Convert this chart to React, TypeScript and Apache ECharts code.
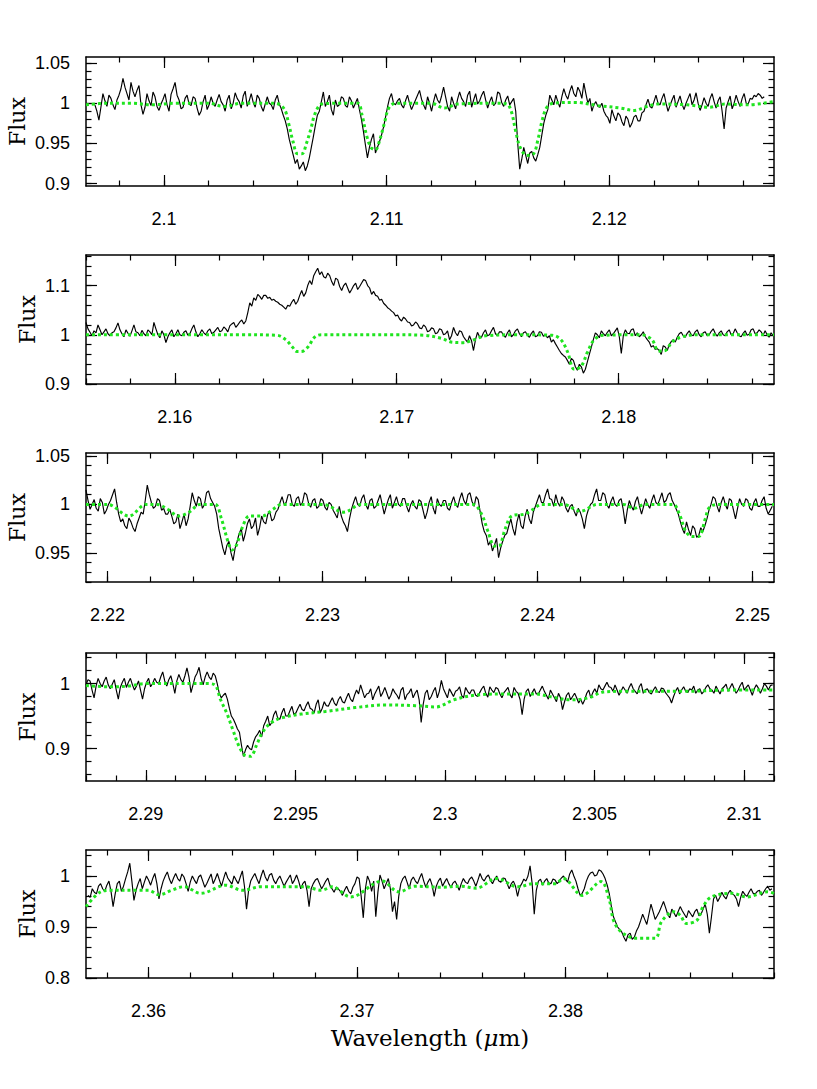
import React, { useEffect, useRef } from "react";
import * as echarts from "echarts";

// ---------- Panel 1 (2.0965 - 2.1274 um) ----------
const P1_X0 = 2.0969;
const P1_STEP = 0.00009;
const P1_FLUX = [
  0.998,0.990,0.979,0.995,1.012,1.003,0.996,1.010,1.006,0.998,0.992,1.004,1.010,1.018,1.031,1.020,1.012,1.004,1.026,1.015,
  1.008,1.016,1.022,0.998,0.986,0.995,1.012,1.003,0.997,1.014,1.008,0.996,0.991,0.999,1.005,1.012,0.998,0.990,1.011,1.018,
  1.026,1.010,1.004,0.993,0.995,1.006,1.010,0.999,0.997,1.008,1.006,0.994,0.985,0.990,1.002,1.010,0.992,0.998,1.008,1.000,
  0.996,1.004,1.011,1.002,0.998,0.990,1.004,1.010,0.993,1.000,1.013,1.006,1.002,0.994,1.009,1.015,0.996,1.003,1.012,1.001,
  0.995,1.010,1.006,0.996,0.990,0.999,1.008,1.000,0.998,0.992,1.004,1.010,0.999,0.993,
  0.985,0.978,0.968,0.955,0.945,0.935,0.925,0.930,0.918,0.922,0.927,0.916,0.922,0.932,0.945,0.958,0.972,0.985,0.990,1.002,
  1.014,0.996,1.002,1.010,0.992,0.985,1.004,0.996,0.998,1.008,1.006,0.997,0.995,1.008,1.003,0.994,1.000,1.006,0.992,0.980,
  0.965,0.948,0.932,0.945,0.955,0.962,0.938,0.945,0.952,0.960,0.970,0.982,0.995,1.006,1.012,1.000,0.998,1.003,
  1.006,0.998,0.994,1.003,1.010,1.000,0.992,0.998,1.004,1.010,1.016,1.005,0.998,0.992,1.008,1.000,0.990,1.002,
  1.012,1.004,1.000,1.009,1.020,1.008,0.996,0.990,1.008,1.000,0.993,1.005,1.014,1.006,1.002,0.996,1.010,1.015,0.995,1.004,
  1.012,0.999,1.003,1.010,1.015,1.004,0.994,1.002,1.008,0.997,1.000,1.014,1.012,1.001,0.996,1.004,1.009,0.998,1.002,1.006,
  0.990,0.950,0.918,0.930,0.945,0.935,0.925,0.938,0.940,0.932,0.928,0.936,0.945,0.960,0.975,0.985,0.992,1.010,1.004,0.998,
  1.010,1.002,0.995,1.008,1.018,1.010,1.005,1.015,1.022,1.012,1.008,1.020,1.015,1.006,1.025,1.012,1.000,1.006,0.990,0.998,1.002,0.996,
  0.995,1.000,0.990,0.985,0.982,0.975,0.992,0.984,0.978,0.988,0.985,0.977,0.972,0.984,0.980,0.970,0.975,0.983,0.985,0.978,0.978,0.988,0.990,0.998,
  1.005,0.996,0.994,1.002,1.010,1.000,0.998,1.006,1.012,1.000,0.990,0.997,1.004,1.010,0.995,1.002,1.009,0.999,0.992,1.000,
  1.006,1.012,0.998,1.004,1.013,1.000,0.991,0.998,1.007,1.000,0.996,1.006,1.012,1.002,0.994,1.003,1.008,0.990,0.968,0.994,
  1.002,1.009,0.993,1.000,1.010,1.002,0.996,1.006,1.012,1.000,0.999,1.006,1.005,1.010,1.008,1.012,1.010,1.006,1.008,
];
const P1_MODEL = [
  [2.0965,0.998],[2.0975,1.0],[2.0985,1.0],[2.0995,0.998],[2.1005,1.0],[2.1020,1.0],[2.1027,0.996],
  [2.1035,1.0],[2.1050,1.0],[2.1054,0.993],[2.1056,0.975],[2.1058,0.952],[2.1060,0.937],[2.1062,0.937],
  [2.1064,0.95],[2.1066,0.968],[2.1068,0.988],[2.1071,0.999],[2.1080,1.0],[2.1087,1.0],[2.1089,0.985],
  [2.1091,0.96],[2.1093,0.945],[2.1095,0.942],[2.1097,0.955],[2.1099,0.975],[2.1101,0.994],[2.1104,1.0],
  [2.1120,1.0],[2.1126,0.994],[2.1132,0.999],[2.1150,1.0],[2.1154,0.999],[2.1156,0.99],[2.1158,0.965],
  [2.1160,0.945],[2.1163,0.935],[2.1166,0.937],[2.1168,0.955],[2.1170,0.98],[2.1172,0.995],[2.1175,1.0],
  [2.1185,1.001],[2.1195,0.997],[2.1205,0.994],[2.1211,0.991],[2.1217,0.996],[2.1222,0.999],[2.1235,0.998],
  [2.1245,0.995],[2.1252,0.999],[2.1262,0.998],[2.1274,1.002],
];
const P1_XTICKS = [2.1, 2.11, 2.12];
const P1_YTICKS = [0.9, 0.95, 1, 1.05];

// ---------- Panel 2 (2.156 - 2.187 um) ----------
const P2_X0 = 2.156;
const P2_STEP = 0.00009;
const P2_FLUX = [
  1.025,1.012,1.005,0.998,1.008,1.004,1.020,1.010,1.000,1.006,1.012,1.002,0.998,1.004,1.006,1.014,1.024,1.010,1.002,0.996,
  1.010,1.003,0.997,1.008,1.020,1.006,1.004,0.998,1.009,1.002,0.998,1.010,1.006,1.000,1.025,1.012,1.000,0.994,1.008,1.000,
  0.984,0.996,1.004,1.010,0.996,1.002,1.010,1.000,0.998,1.005,1.008,0.999,1.002,1.012,1.020,1.006,0.996,1.002,1.010,1.004,
  1.000,1.008,1.012,1.002,1.005,1.010,1.015,1.006,1.008,1.016,1.012,1.006,1.018,1.022,
  1.025,1.015,1.020,1.026,1.030,1.022,1.028,1.045,
  1.065,1.058,1.075,1.070,1.082,1.078,1.072,1.080,1.080,1.074,1.076,1.070,1.072,1.068,1.066,1.062,1.060,1.056,1.052,1.060,
  1.058,1.066,1.072,1.062,1.068,1.080,1.090,1.078,1.085,1.100,1.110,1.102,1.120,1.128,1.135,1.122,1.128,1.118,1.115,1.125,
  1.120,1.108,1.100,1.115,1.112,1.098,1.090,1.100,1.105,1.095,1.085,1.092,1.100,1.105,1.092,1.098,1.105,1.112,1.110,1.100,
  1.095,1.082,1.088,1.080,1.078,1.070,1.072,1.064,1.060,1.055,1.052,1.048,1.045,1.038,1.040,1.032,1.028,1.036,1.032,1.026,
  1.025,1.018,1.020,1.026,1.022,1.014,1.012,1.020,1.016,1.006,1.008,1.014,1.012,1.002,1.004,1.012,1.010,1.000,
  1.002,1.008,0.990,0.998,1.015,1.004,0.998,1.008,1.006,0.996,0.990,0.985,0.998,0.988,0.968,0.990,1.005,0.996,0.995,1.004,
  1.010,0.998,1.000,1.008,1.015,1.002,0.998,1.006,1.006,0.999,0.995,1.004,1.010,0.996,1.000,1.008,1.012,1.002,0.996,1.004,
  1.006,0.999,0.995,1.003,1.008,0.996,0.998,1.006,1.005,0.997,1.000,0.994,0.998,0.985,0.990,0.982,
  0.975,0.968,0.962,0.958,0.955,0.948,0.940,0.952,0.948,0.935,0.928,0.940,0.935,0.922,0.930,0.945,0.960,0.975,0.990,1.004,1.000,0.994,
  1.008,1.002,0.998,1.005,1.010,0.998,1.002,1.008,1.014,0.996,0.962,0.998,1.010,1.003,1.002,1.010,1.012,0.998,1.004,0.996,1.000,1.006,0.996,0.990,
  0.985,0.975,0.978,0.970,0.972,0.968,0.960,0.978,0.975,0.968,0.980,0.986,0.990,0.985,0.995,1.002,
  1.005,0.998,0.995,1.003,1.008,1.000,0.998,1.006,1.010,1.000,0.996,1.004,1.006,0.998,1.000,1.007,1.012,1.003,0.997,1.004,
  1.008,1.000,0.998,1.006,1.010,1.000,1.002,1.012,1.004,0.998,0.996,1.003,1.008,0.999,1.001,1.010,1.012,1.002,1.004,1.010,
  1.006,0.999,1.008,1.000,0.995,1.004,0.998,
];
const P2_MODEL = [
  [2.156,1.0],[2.16,1.0],[2.163,1.0],[2.1646,0.999],[2.165,0.99],[2.1653,0.975],[2.1655,0.966],
  [2.1657,0.966],[2.166,0.975],[2.1663,0.995],[2.1666,1.0],[2.17,1.0],[2.1712,0.999],[2.172,0.993],
  [2.1725,0.985],[2.173,0.984],[2.1735,0.99],[2.174,0.998],[2.1755,1.0],[2.177,0.999],[2.1774,0.99],
  [2.1777,0.965],[2.178,0.93],[2.1783,0.935],[2.1786,0.965],[2.1789,0.99],[2.1793,0.999],[2.181,1.0],
  [2.1815,0.99],[2.1818,0.967],[2.1821,0.968],[2.1824,0.985],[2.1828,0.995],[2.1835,1.0],[2.187,1.0],
];
const P2_XTICKS = [2.16, 2.17, 2.18];
const P2_YTICKS = [0.9, 1, 1.1];

// ---------- Panel 3 (2.219 - 2.251 um) ----------
const P3_X0 = 2.219;
const P3_STEP = 0.000095;
const P3_FLUX = [
  1.015,1.004,0.995,1.000,1.005,0.996,0.993,1.006,1.002,0.990,0.994,1.000,1.004,1.010,1.016,1.002,0.990,0.982,0.985,0.978,
  0.975,0.986,0.982,0.976,0.972,0.980,0.986,0.992,0.990,1.004,1.020,1.010,1.002,0.996,0.998,1.006,1.004,0.994,0.996,0.990,
  0.990,0.995,0.988,0.980,0.982,0.990,0.975,0.982,0.990,0.978,0.985,0.998,1.012,1.004,0.998,1.008,1.006,0.996,1.000,1.012,
  1.014,1.006,1.002,0.998,0.990,0.975,0.965,0.955,0.948,0.958,0.962,0.950,0.942,0.955,0.962,0.970,0.975,0.962,0.970,0.980,
  0.985,0.975,0.978,0.986,0.968,0.976,0.988,0.982,0.980,0.990,0.992,0.983,0.985,0.992,0.995,1.002,1.008,1.000,1.002,1.010,
  1.010,1.000,0.998,1.006,1.008,0.999,1.002,1.012,1.010,1.001,0.997,1.004,1.006,0.996,0.998,1.006,1.004,0.997,0.994,1.002,
  1.000,0.994,0.990,0.986,0.998,0.988,0.982,0.978,0.972,0.985,0.995,1.002,1.008,1.000,0.998,1.006,1.010,1.000,0.995,1.004,
  1.006,0.996,0.998,1.004,1.010,1.000,0.990,0.998,1.005,1.010,0.996,1.002,1.008,1.000,0.998,1.006,1.006,0.998,0.992,1.000,
  1.004,0.998,0.995,1.005,1.003,0.994,0.985,0.992,1.002,1.008,0.996,0.990,1.006,1.000,0.998,1.004,1.004,0.996,0.994,1.002,
  1.008,1.000,0.997,1.006,1.012,1.004,1.000,1.010,1.012,1.003,0.998,1.008,1.005,0.992,0.980,0.972,0.968,0.958,0.962,0.952,
  0.958,0.965,0.945,0.955,0.962,0.968,0.970,0.978,0.985,0.975,0.968,0.982,0.990,0.978,0.975,0.988,0.995,0.985,0.980,0.992,
  0.998,1.004,1.010,1.002,1.002,1.010,1.016,1.006,1.005,0.998,1.010,1.002,0.998,1.008,1.004,0.996,0.992,0.998,1.000,0.993,
  0.988,0.996,0.992,0.985,0.975,0.988,0.995,1.000,1.002,1.010,1.016,1.004,1.004,1.012,1.010,1.000,0.996,1.003,1.008,1.000,
  0.998,1.004,1.006,0.995,0.980,0.994,1.004,0.998,0.994,1.003,1.008,0.998,0.990,0.998,1.006,1.000,0.996,1.004,1.010,1.002,
  1.000,1.006,1.012,1.002,1.004,1.010,1.012,1.004,1.000,0.995,0.990,0.982,0.975,0.970,0.982,0.974,0.968,0.978,0.975,0.966,
  0.968,0.976,0.972,0.978,0.985,0.994,1.000,1.008,1.006,0.998,0.992,1.002,1.008,1.000,0.995,1.006,1.004,0.994,0.985,0.996,
  1.006,1.000,0.998,1.006,1.004,0.996,0.994,1.002,1.006,0.998,0.998,1.004,1.008,0.996,0.990,0.994,0.998,
];
const P3_MODEL = [
  [2.219,1.0],[2.22,1.0],[2.221,0.988],[2.2218,1.0],[2.2223,1.0],[2.2228,0.995],[2.2233,0.988],
  [2.2238,0.992],[2.2243,1.0],[2.225,1.0],[2.2253,0.985],[2.2256,0.962],[2.2258,0.953],[2.226,0.958],
  [2.2263,0.978],[2.2266,0.988],[2.2272,0.988],[2.2277,0.995],[2.2281,1.0],[2.23,1.0],[2.231,0.992],
  [2.2318,1.0],[2.236,1.0],[2.237,1.0],[2.2374,0.99],[2.2377,0.972],[2.238,0.957],[2.2382,0.957],
  [2.2385,0.975],[2.2388,0.988],[2.2394,0.99],[2.2398,0.995],[2.2402,1.0],[2.2412,1.0],[2.242,0.993],
  [2.2428,1.0],[2.244,1.0],[2.2445,0.996],[2.245,1.0],[2.2463,1.0],[2.2466,0.99],[2.2469,0.972],
  [2.2472,0.967],[2.2475,0.967],[2.2478,0.985],[2.248,0.997],[2.2484,1.0],[2.251,1.0],
];
const P3_XTICKS = [2.22, 2.23, 2.24, 2.25];
const P3_YTICKS = [0.95, 1, 1.05];

// ---------- Panel 4 (2.288 - 2.311 um) ----------
const P4_X0 = 2.288;
const P4_STEP = 0.0000675;
const P4_FLUX = [
  0.998,1.006,1.004,0.990,0.978,0.996,1.008,1.000,0.995,1.004,1.010,0.998,0.992,0.999,1.006,0.990,0.976,0.994,1.002,1.008,
  0.994,1.002,1.008,0.998,0.990,0.996,1.004,0.990,0.976,0.992,1.002,1.008,0.995,1.000,1.008,1.002,1.000,1.010,1.018,1.004,
  0.996,1.006,1.012,1.000,0.985,1.004,1.014,1.006,1.002,1.012,1.024,1.010,0.986,0.998,1.010,1.016,1.025,1.008,0.998,1.010,
  1.018,1.010,1.006,1.016,1.012,1.000,0.985,0.978,0.982,0.985,0.976,0.962,0.950,0.945,0.938,0.930,0.925,0.905,0.888,0.898,
  0.905,0.900,0.898,0.910,0.918,0.922,0.928,0.918,0.935,0.942,0.950,0.935,0.940,0.952,0.958,0.946,0.945,0.955,0.962,0.950,
  0.950,0.958,0.965,0.952,0.955,0.962,0.968,0.960,0.958,0.966,0.972,0.962,0.960,0.955,0.968,0.975,0.955,0.962,0.972,0.966,
  0.965,0.972,0.978,0.970,0.966,0.975,0.980,0.972,0.970,0.978,0.985,0.976,0.972,0.982,0.990,0.984,0.998,0.988,0.978,0.984,
  0.985,0.992,0.975,0.984,0.990,0.996,0.980,0.986,0.994,0.985,0.976,0.982,0.992,0.986,0.982,0.976,0.990,0.994,0.975,0.983,
  0.986,0.992,0.978,0.985,0.990,0.975,0.940,0.968,0.985,0.990,0.975,0.980,0.988,0.994,0.978,0.988,1.005,0.992,0.985,0.978,
  0.992,0.986,0.980,0.988,0.990,0.995,0.982,0.978,0.994,0.988,0.984,0.990,0.990,0.982,0.980,0.986,0.992,0.996,0.985,0.979,
  0.995,0.990,0.986,0.994,0.992,0.984,0.978,0.986,0.990,0.994,0.983,0.978,0.994,0.988,0.985,0.975,0.952,0.976,0.988,0.992,
  0.980,0.986,0.992,0.984,0.984,0.990,0.996,0.988,0.982,0.976,0.990,0.984,0.978,0.972,0.985,0.978,0.960,0.972,0.982,0.986,
  0.975,0.980,0.985,0.978,0.970,0.976,0.968,0.975,0.985,0.990,0.978,0.986,0.992,0.985,0.998,0.992,0.990,0.996,1.002,0.995,
  0.994,0.988,0.998,0.990,0.982,0.988,0.995,0.990,0.985,0.994,1.000,0.992,0.988,0.984,0.995,1.000,0.985,0.990,0.992,0.986,
  0.984,0.990,0.995,0.988,0.986,0.993,0.992,0.986,0.982,0.978,0.970,0.980,0.988,0.994,0.984,0.990,0.995,0.988,0.986,0.992,
  0.990,0.996,0.985,0.990,0.992,0.984,0.988,0.994,0.998,0.992,0.990,0.985,0.996,0.990,0.984,0.992,0.995,0.999,0.988,0.994,
  1.000,0.992,0.985,0.990,0.997,1.002,0.990,0.994,0.998,0.990,0.982,0.992,0.998,0.993,0.985,0.992,1.000,0.996,0.990,0.997,0.998,
];
const P4_MODEL = [
  [2.288,0.997],[2.2888,0.995],[2.2894,0.996],[2.29,1.0],[2.292,1.0],[2.2923,0.998],[2.2925,0.975],
  [2.2927,0.955],[2.2929,0.93],[2.2931,0.905],[2.2933,0.89],[2.2935,0.888],[2.2937,0.905],[2.2939,0.925],
  [2.2942,0.94],[2.2946,0.948],[2.2952,0.953],[2.296,0.957],[2.297,0.963],[2.298,0.967],[2.299,0.966],
  [2.2997,0.964],[2.3003,0.975],[2.301,0.982],[2.302,0.984],[2.303,0.984],[2.3036,0.979],[2.3042,0.975],
  [2.3048,0.978],[2.3053,0.987],[2.306,0.988],[2.308,0.988],[2.3095,0.99],[2.311,0.99],
];
const P4_XTICKS = [2.29, 2.295, 2.3, 2.305, 2.31];
const P4_YTICKS = [0.9, 1];

// ---------- Panel 5 (2.357 - 2.39 um) ----------
const P5_X0 = 2.3571;
const P5_STEP = 0.0001;
const P5_FLUX = [
  0.962,0.958,0.975,0.968,0.965,0.980,0.985,0.975,0.970,0.982,0.990,0.970,0.940,0.965,0.985,0.990,0.970,0.980,0.995,1.008,
  1.025,0.990,0.952,0.972,0.985,0.995,0.975,0.988,1.000,0.992,0.982,0.995,1.005,0.985,0.955,0.975,0.990,1.000,1.008,0.994,
  0.985,0.996,1.005,0.995,0.990,1.004,0.998,0.985,0.970,0.988,1.000,0.992,0.985,0.998,1.002,0.990,0.978,0.986,0.995,1.004,
  0.985,0.994,1.005,0.992,0.980,0.995,1.008,0.996,0.990,0.984,1.000,0.992,0.985,0.998,1.010,0.980,0.935,0.972,0.990,0.998,
  1.005,0.994,0.985,1.000,1.012,0.998,0.990,1.002,1.005,0.992,0.985,0.994,1.000,0.990,0.980,0.988,0.995,1.002,0.985,0.992,
  1.002,0.990,0.975,0.985,0.990,0.972,0.940,0.975,0.985,0.992,0.995,0.985,0.975,0.982,0.990,0.996,0.982,0.975,0.968,0.978,
  0.975,0.970,0.962,0.972,0.980,0.970,0.965,0.978,0.985,0.998,0.995,0.960,0.918,0.975,1.000,0.990,0.970,0.990,0.920,0.968,
  1.002,0.990,0.975,0.985,0.995,0.975,0.930,0.950,0.915,0.960,0.985,0.995,1.000,0.988,0.975,0.992,0.998,0.990,0.985,0.996,
  1.005,0.990,0.978,0.988,0.995,0.982,0.960,0.980,0.990,0.996,0.980,0.988,0.995,0.985,0.978,0.986,0.990,0.982,0.972,0.985,
  0.995,0.988,0.985,0.994,0.998,0.990,0.980,0.992,1.005,0.995,0.990,0.998,1.002,0.992,0.985,0.994,1.000,0.990,0.988,0.996,
  0.995,0.985,0.975,0.985,0.990,0.980,0.960,0.978,0.985,0.994,0.990,1.000,1.020,0.985,0.925,0.972,0.990,0.994,0.982,0.990,
  0.995,0.986,0.985,0.994,0.992,0.985,0.990,0.996,1.000,0.994,0.988,1.004,1.012,1.000,0.990,0.975,0.962,0.966,0.975,0.990,
  1.000,1.006,1.008,1.000,1.002,1.012,1.010,1.004,0.995,0.982,0.965,0.940,0.920,0.910,0.900,0.895,0.890,0.880,0.872,0.885,
  0.888,0.876,0.880,0.892,0.900,0.912,0.925,0.915,0.905,0.925,0.945,0.930,0.915,0.922,0.930,0.940,0.950,0.938,0.925,0.918,
  0.935,0.928,0.920,0.930,0.940,0.932,0.925,0.918,0.932,0.926,0.920,0.930,0.935,0.922,0.925,0.935,0.945,0.925,0.888,0.920,
  0.955,0.962,0.950,0.958,0.968,0.960,0.955,0.966,0.972,0.965,0.962,0.955,0.940,0.958,0.970,0.964,0.960,0.968,0.975,0.966,
  0.965,0.970,0.972,0.962,0.968,0.975,0.980,0.972,0.975,
];
const P5_MODEL = [
  [2.357,0.94],[2.3577,0.969],[2.3582,0.972],[2.3595,0.972],[2.36,0.972],[2.3605,0.963],[2.3611,0.972],
  [2.3617,0.979],[2.3625,0.966],[2.3637,0.982],[2.3645,0.972],[2.3654,0.979],[2.3675,0.979],[2.3683,0.972],
  [2.3688,0.979],[2.3697,0.959],[2.3712,0.99],[2.372,0.969],[2.3728,0.98],[2.374,0.978],[2.375,0.98],
  [2.3757,0.976],[2.3767,0.995],[2.3777,0.979],[2.3785,0.985],[2.3795,0.985],[2.3799,0.995],[2.3808,0.962],
  [2.3817,0.989],[2.3821,0.953],[2.3823,0.913],[2.3826,0.893],[2.383,0.882],[2.3833,0.878],[2.3843,0.878],
  [2.3846,0.91],[2.3852,0.93],[2.3855,0.923],[2.3858,0.907],[2.3863,0.913],[2.3866,0.94],[2.387,0.959],
  [2.388,0.966],[2.3887,0.959],[2.3897,0.969],[2.39,0.966],
];
const P5_XTICKS = [2.36, 2.37, 2.38];
const P5_YTICKS = [0.8, 0.9, 1];

const PANELS = [
  { top: 57, height: 129, xMin: 2.0965, xMax: 2.1274, yMin: 0.897, yMax: 1.0575, xMinor: 0.002, yMinor: 0.01, x0: P1_X0, step: P1_STEP, flux: P1_FLUX, model: P1_MODEL, xTicks: P1_XTICKS, yTicks: P1_YTICKS, labelX: 17 },
  { top: 255, height: 129, xMin: 2.156, xMax: 2.187, yMin: 0.9, yMax: 1.162, xMinor: 0.002, yMinor: 0.02, x0: P2_X0, step: P2_STEP, flux: P2_FLUX, model: P2_MODEL, xTicks: P2_XTICKS, yTicks: P2_YTICKS, labelX: 27 },
  { top: 453, height: 129, xMin: 2.219, xMax: 2.251, yMin: 0.92, yMax: 1.053, xMinor: 0.002, yMinor: 0.01, x0: P3_X0, step: P3_STEP, flux: P3_FLUX, model: P3_MODEL, xTicks: P3_XTICKS, yTicks: P3_YTICKS, labelX: 17 },
  { top: 653, height: 128, xMin: 2.288, xMax: 2.311, yMin: 0.85, yMax: 1.047, xMinor: 0.001, yMinor: 0.02, x0: P4_X0, step: P4_STEP, flux: P4_FLUX, model: P4_MODEL, xTicks: P4_XTICKS, yTicks: P4_YTICKS, labelX: 27 },
  { top: 850, height: 128, xMin: 2.357, xMax: 2.39, yMin: 0.8, yMax: 1.051, xMinor: 0.002, yMinor: 0.02, x0: P5_X0, step: P5_STEP, flux: P5_FLUX, model: P5_MODEL, xTicks: P5_XTICKS, yTicks: P5_YTICKS, labelX: 27 },
];

function minorTicks(min: number, max: number, step: number): number[] {
  const out: number[] = [];
  for (let k = Math.ceil(min / step - 1e-6); k * step <= max + 1e-9; k++) {
    out.push(+(k * step).toFixed(6));
  }
  return out;
}

const BLACK = "#000";
const LINE = { color: BLACK, width: 1.5 };
const TICK = { color: BLACK, width: 1.2 };
const LABEL_FONT = { fontSize: 18, color: BLACK, fontFamily: "Liberation Sans" };

function buildOption() {
  const grid: any[] = [];
  const xAxis: any[] = [];
  const yAxis: any[] = [];
  const series: any[] = [];
  const graphic: any[] = [];

  PANELS.forEach((p, g) => {
    grid.push({ left: 86, right: 43, top: p.top, height: p.height, containLabel: false });
    const xMinorVals = minorTicks(p.xMin, p.xMax, p.xMinor);
    const yMinorVals = minorTicks(p.yMin, p.yMax, p.yMinor);
    const baseX = { type: "value", min: p.xMin, max: p.xMax, gridIndex: g, splitLine: { show: false } };
    const baseY = { type: "value", min: p.yMin, max: p.yMax, gridIndex: g, splitLine: { show: false } };
    ["bottom", "top"].forEach((pos) => {
      xAxis.push({
        ...baseX, position: pos,
        axisLine: { show: true, onZero: false, lineStyle: LINE },
        axisTick: { show: true, inside: true, length: 11, customValues: p.xTicks, lineStyle: TICK },
        axisLabel: pos === "bottom"
          ? { show: true, customValues: p.xTicks, margin: 24, ...LABEL_FONT }
          : { show: false },
      });
      xAxis.push({
        ...baseX, position: pos,
        axisLine: { show: false, onZero: false },
        axisTick: { show: true, inside: true, length: 5.5, customValues: xMinorVals, lineStyle: TICK },
        axisLabel: { show: false },
      });
    });
    ["left", "right"].forEach((pos) => {
      yAxis.push({
        ...baseY, position: pos,
        axisLine: { show: true, onZero: false, lineStyle: LINE },
        axisTick: { show: true, inside: true, length: 11, customValues: p.yTicks, lineStyle: TICK },
        axisLabel: pos === "left"
          ? { show: true, customValues: p.yTicks, margin: 16, ...LABEL_FONT }
          : { show: false },
      });
      yAxis.push({
        ...baseY, position: pos,
        axisLine: { show: false, onZero: false },
        axisTick: { show: true, inside: true, length: 5.5, customValues: yMinorVals, lineStyle: TICK },
        axisLabel: { show: false },
      });
    });

    series.push({
      type: "line",
      xAxisIndex: g * 4,
      yAxisIndex: g * 4,
      data: p.flux.map((v, i) => [p.x0 + i * p.step, v]),
      symbol: "none",
      lineStyle: { color: BLACK, width: 1.15 },
      silent: true,
    });
    series.push({
      type: "line",
      xAxisIndex: g * 4,
      yAxisIndex: g * 4,
      data: p.model,
      symbol: "none",
      smooth: 0.35,
      lineStyle: { color: "#1fe41f", width: 3, type: [3, 3] },
      silent: true,
    });

    graphic.push({
      type: "text",
      x: p.labelX,
      y: p.top + p.height / 2,
      rotation: Math.PI / 2,
      style: {
        text: "Flux",
        fontFamily: "DejaVu Serif",
        fontSize: 22,
        fill: BLACK,
        align: "center",
        verticalAlign: "middle",
      },
    });
  });

  graphic.push({
    type: "text",
    x: 430,
    y: 1038,
    style: {
      text: "Wavelength ({i|μ}m)",
      fontFamily: "DejaVu Serif",
      fontSize: 23,
      fill: BLACK,
      align: "center",
      verticalAlign: "middle",
      rich: {
        i: { fontStyle: "italic", fontFamily: "DejaVu Serif", fontSize: 23, fill: BLACK },
      },
    },
  });

  return {
    animation: false,
    backgroundColor: "#fff",
    grid,
    xAxis,
    yAxis,
    series,
    graphic,
  };
}

export default function App() {
  const ref = useRef<HTMLDivElement>(null);
  useEffect(() => {
    if (!ref.current) return;
    const chart = echarts.init(ref.current, undefined, { renderer: "svg" });
    chart.setOption(buildOption() as any);
    return () => chart.dispose();
  }, []);
  return (
    <div
      ref={ref}
      style={{ position: "fixed", left: 0, top: 0, width: 817, height: 1089, background: "#fff" }}
    />
  );
}
